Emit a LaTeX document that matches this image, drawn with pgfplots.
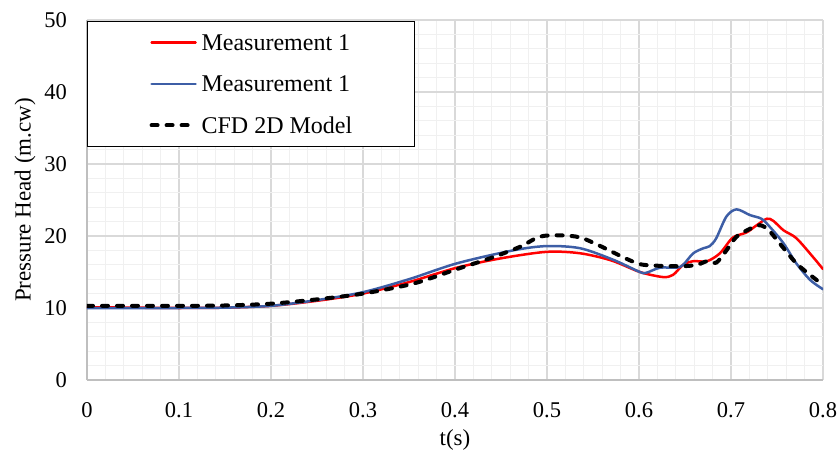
\documentclass[border=0pt]{standalone}
\usepackage{pgfplots}
\pgfplotsset{compat=1.18}
\usepackage{fontspec}
\setmainfont{Liberation Serif}
\definecolor{mred}{RGB}{255,0,0}
\definecolor{mblue}{RGB}{61,94,166}
\definecolor{gmaj}{RGB}{217,217,217}
\definecolor{gmin}{RGB}{240,240,240}
\definecolor{axgray}{RGB}{191,191,191}

\begin{document}
\begin{tikzpicture}
\begin{axis}[
  name=ax,
  scale only axis,
  width=736bp, height=360bp,
  xmin=0, xmax=0.8, ymin=0, ymax=50,
  xtick={0,0.1,0.2,0.3,0.4,0.5,0.6,0.7,0.8},
  xticklabels={0,0.1,0.2,0.3,0.4,0.5,0.6,0.7,0.8},
  ytick={0,10,20,30,40,50},
  /pgf/number format/assume math mode=true,
  minor x tick num=4, minor y tick num=4,
  grid=both,
  major grid style={gmaj, line width=1.2bp},
  minor grid style={gmin, line width=1.2bp},
  major tick length=0pt, minor tick length=0pt,
  axis x line*=bottom, axis y line*=left,
  axis line style={-, axgray, line width=1.2bp},
  tick label style={font=\fontsize{22.5bp}{26bp}\selectfont, inner sep=0pt},
  xticklabel style={anchor=north, yshift=-22bp},
  yticklabel style={anchor=east, xshift=-20bp},
  xlabel={t(s)},
  ylabel={Pressure Head (m.cw)},
  every axis x label/.style={at={(rel axis cs:0.5,0)}, anchor=center, yshift=-60bp,
    font=\fontsize{23bp}{27bp}\selectfont},
  every axis y label/.style={at={(rel axis cs:0,0.5)}, anchor=center, xshift=-62bp, rotate=90,
    font=\fontsize{23bp}{27bp}\selectfont},
  legend style={at={(0,1)}, anchor=north west, yshift=-1bp,
    draw=black, line width=1.2bp, fill=white,
    inner xsep=62bp, inner ysep=10bp, row sep=19.3bp, column sep=4bp,
    font=\fontsize{24bp}{28bp}\selectfont,
    nodes={inner sep=0pt, text height=19bp, text depth=3bp}},
  legend cell align=left,
  legend image code/.code={\draw[#1] (0bp,0bp) -- (44bp,0bp);},
]

% Measurement 1 (red)
\addplot[mred, line width=2.5bp, line cap=round, smooth] coordinates {
(0,10.1)(0.05,10.05)(0.1,10.0)(0.15,10.05)(0.2,10.3)(0.25,11.0)(0.3,12.0)
(0.35,13.6)(0.402,15.6)(0.45,16.9)(0.4996,17.8)(0.536,17.6)(0.57,16.6)
(0.601,15.0)(0.626,14.3)(0.637,14.6)(0.648,16.0)(0.659,16.5)(0.674,16.5)
(0.688,17.6)(0.699,19.4)(0.705,20.0)(0.717,20.5)(0.728,21.5)(0.739,22.4)
(0.746,22.1)(0.757,20.8)(0.771,19.7)(0.789,17.1)(0.8,15.4)
};

% Measurement 1 (blue)
\addplot[mblue, line width=2.5bp, line cap=round, smooth] coordinates {
(0,10.0)(0.05,10.0)(0.1,10.0)(0.15,10.05)(0.2,10.3)(0.25,11.1)(0.3,12.2)
(0.35,14.0)(0.402,16.2)(0.463,18.0)(0.4996,18.6)(0.536,18.3)(0.572,16.7)
(0.601,15.0)(0.608,14.9)(0.623,15.6)(0.641,15.6)(0.648,16.0)(0.659,17.6)
(0.670,18.3)(0.677,18.6)(0.684,19.7)(0.695,22.7)(0.706,23.7)(0.7207,22.9)
(0.733,22.4)(0.742,21.3)(0.757,19.0)(0.771,16.2)(0.786,13.9)(0.8,12.6)
};

% CFD 2D model (black dashed)
\addplot[black, line width=4bp, line cap=round, dash pattern=on 6bp off 9bp, smooth] coordinates {
(0,10.3)(0.05,10.3)(0.1,10.3)(0.15,10.35)(0.2,10.6)(0.25,11.2)(0.3,12.0)
(0.355,13.4)(0.402,15.4)(0.438,16.9)(0.4707,18.5)(0.492,19.9)(0.514,20.1)
(0.536,19.8)(0.558,18.6)(0.587,16.8)(0.605,16.0)(0.645,15.8)(0.663,16.0)
(0.674,16.5)(0.684,16.3)(0.695,18.0)(0.706,19.9)(0.7207,21.0)(0.7315,21.5)
(0.741,20.8)(0.754,18.8)(0.771,16.2)(0.786,14.6)(0.8,13.2)
};

\legend{Measurement 1, Measurement 1, CFD 2D Model}
\end{axis}
\pgfresetboundingbox
\path (ax.south west) ++(-87bp,-77bp) rectangle ++(840bp,457bp);
\end{tikzpicture}
\end{document}
